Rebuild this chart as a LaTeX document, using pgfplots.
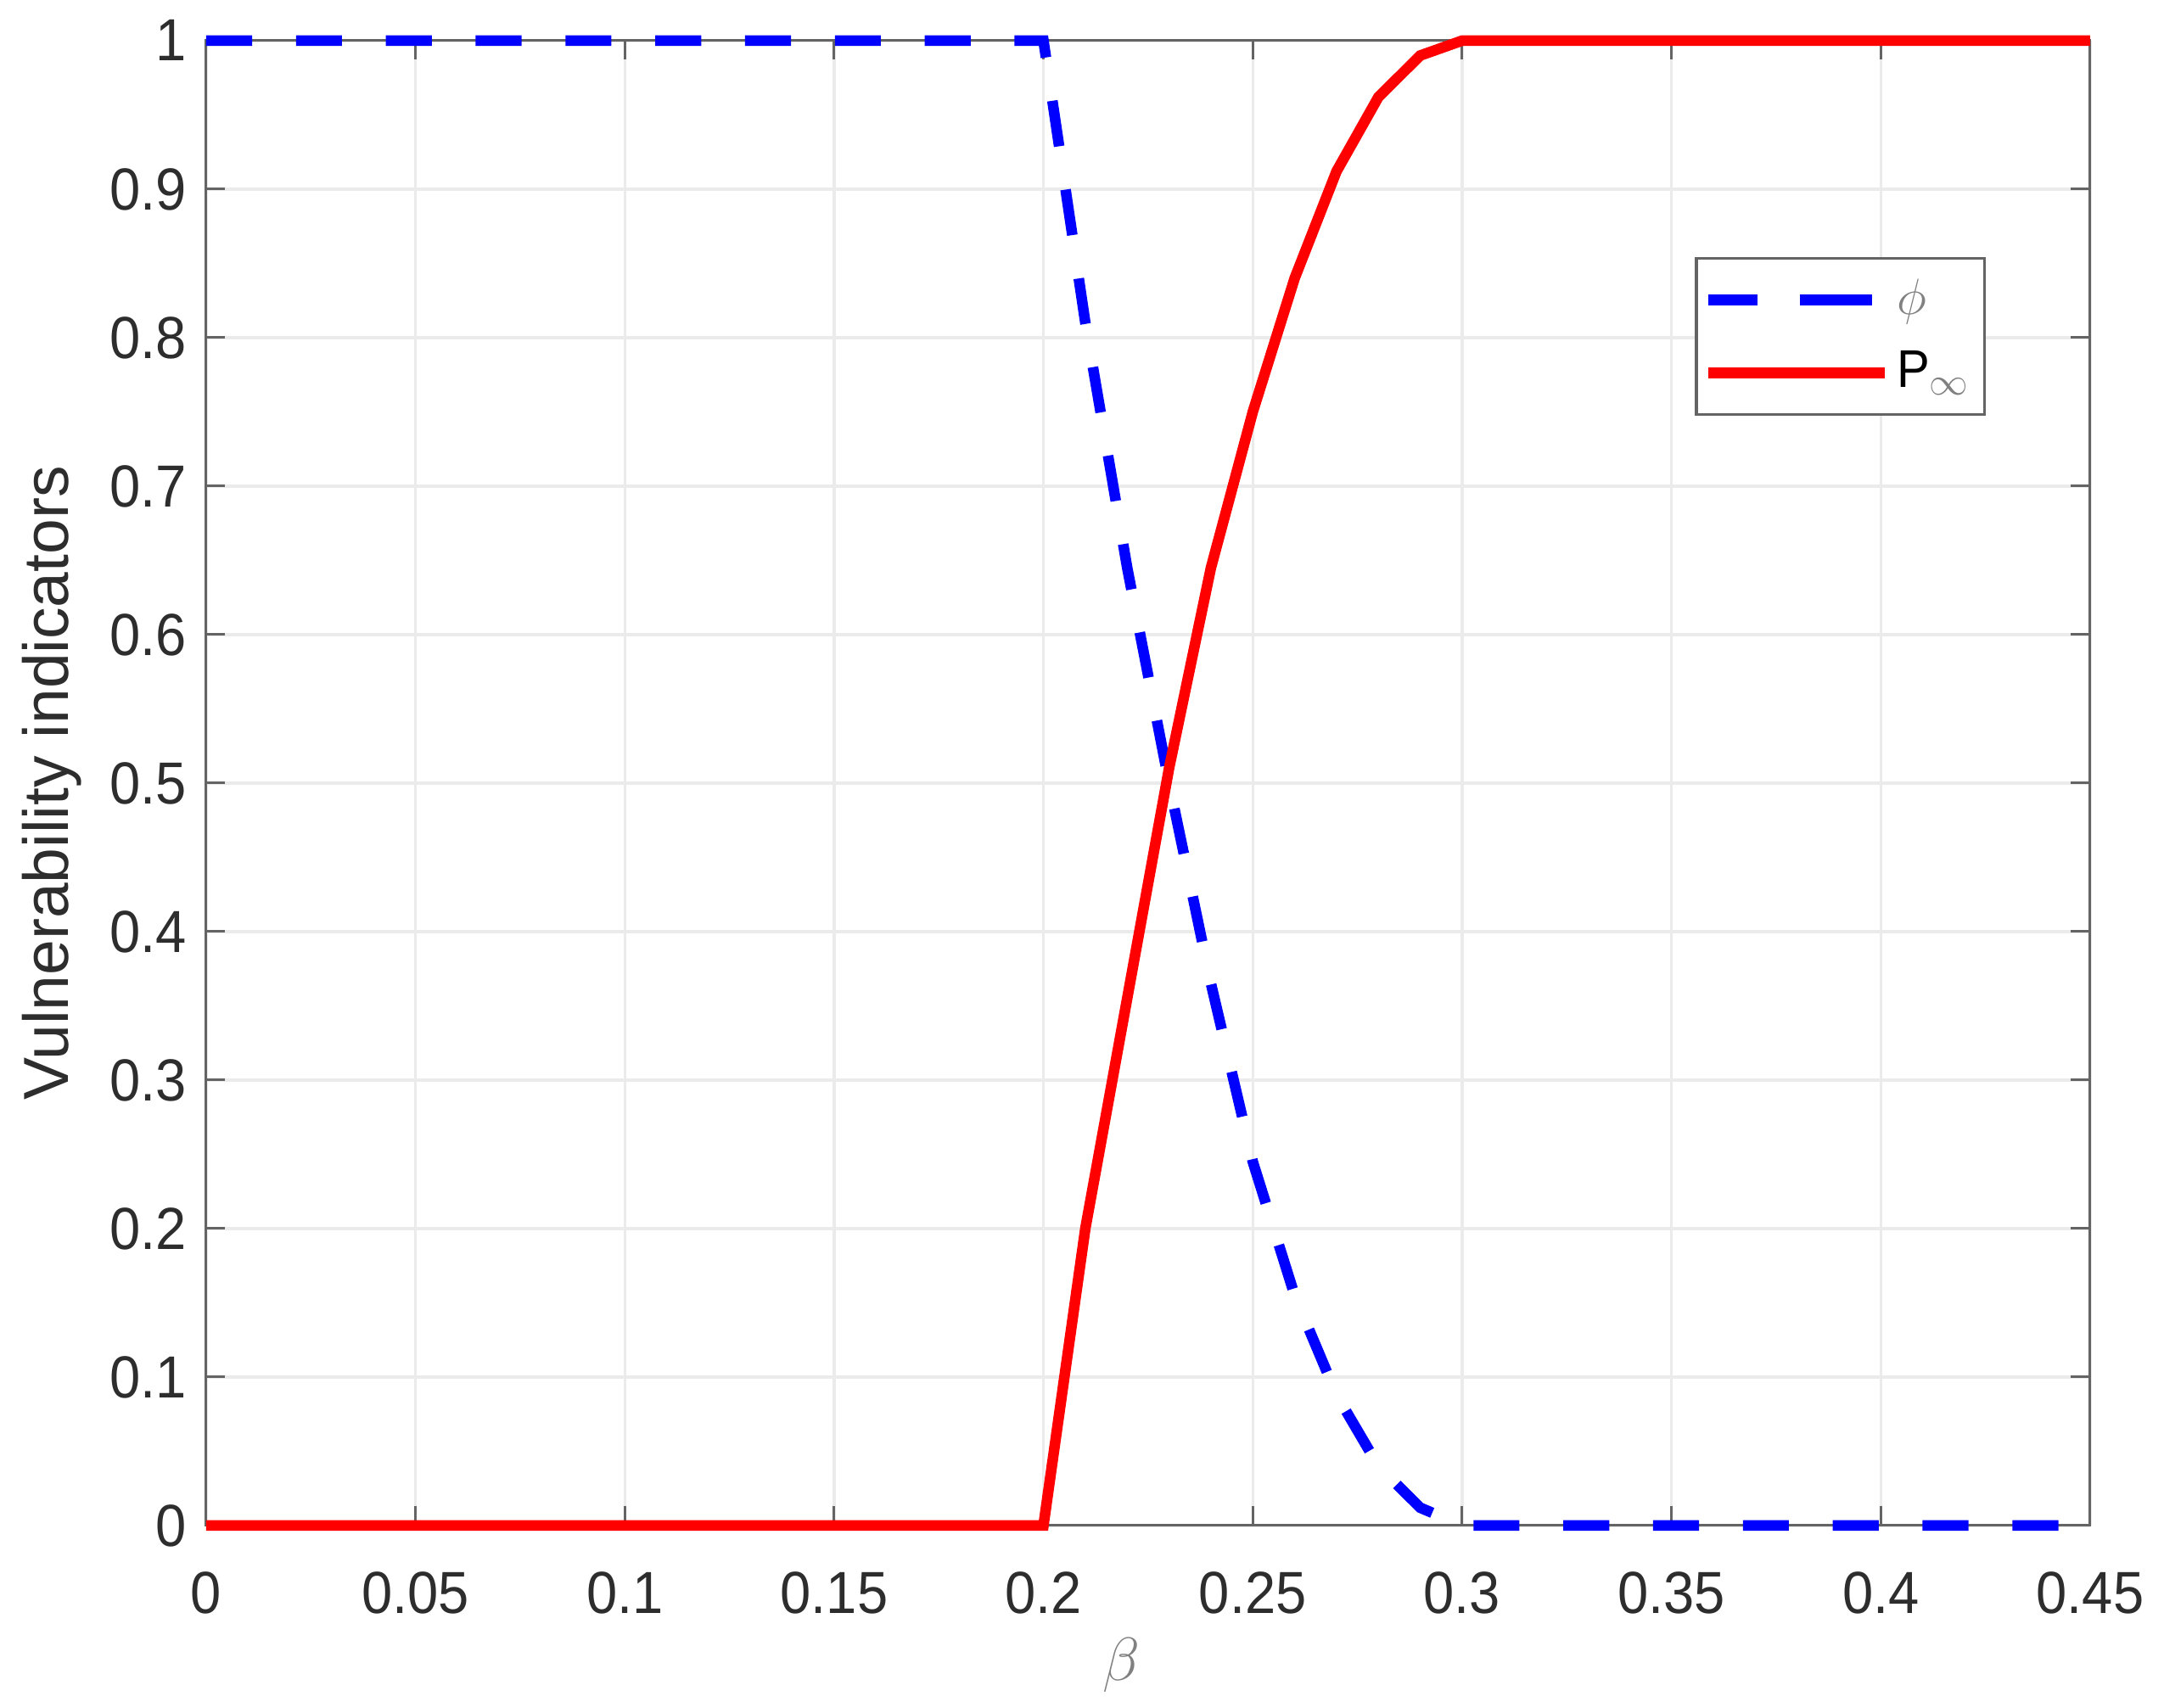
\documentclass[border=0pt]{standalone}
\usepackage{fontspec}
\setmainfont{Liberation Sans}[FakeStretch=0.93]
\newfontfamily\labelfont{Liberation Sans}
\usepackage{pgfplots}
\pgfplotsset{compat=1.18}

\definecolor{axgray}{RGB}{100,100,100}
\definecolor{txtgray}{RGB}{45,45,45}
\definecolor{gridgray}{RGB}{235,235,235}
\definecolor{mblue}{RGB}{0,0,255}
\definecolor{mred}{RGB}{255,0,0}

% legend samples: plain line, and MATLAB-like dash for phi
\pgfplotsset{
    lineleg/.style={legend image code/.code={\draw[##1] (0pt,0pt) -- (49.7pt,0pt);}},
    phileg/.style={legend image code/.code={\draw[##1, dash pattern=on 13.7pt off 12pt on 20.6pt off 10pt] (0pt,0pt) -- (49.7pt,0pt);}},
}

\begin{document}
\begin{tikzpicture}
\begin{axis}[
    scale only axis,
    width=532.8pt, height=420pt,
    xmin=0, xmax=0.45, ymin=0, ymax=1,
    xtick={0,0.05,...,0.45},
    xticklabels={0,0.05,0.1,0.15,0.2,0.25,0.3,0.35,0.4,0.45},
    ytick={0,0.1,...,1},
    yticklabels={0,0.1,0.2,0.3,0.4,0.5,0.6,0.7,0.8,0.9,1},
    tick align=inside,
    major tick length=5.4pt,
    tick style={axgray, line width=0.7pt},
    axis line style={axgray, line width=0.7pt},
    grid=major,
    major grid style={gridgray, line width=0.8pt},
    tick label style={font=\fontsize{16.8}{18}\selectfont, text=txtgray},
    xticklabel style={yshift=-9.5pt},
    yticklabel style={xshift=-2pt},
    xlabel={\fontsize{17}{20}\selectfont\color{gray}$\beta$},
    xlabel style={at={(axis description cs:0.486,-0.0943)}, anchor=center},
    ylabel={\labelfont\fontsize{18}{20}\selectfont Vulnerability indicators},
    ylabel style={at={(axis description cs:-0.082,0.5)}, anchor=center, text=txtgray},
    clip=false,
    legend style={
        at={(rel axis cs:0.9446,0.8543)}, anchor=north east,
        draw=axgray, line width=0.8pt,
        inner xsep=2pt, inner ysep=1.5pt,
        nodes={inner xsep=2pt, inner ysep=2.3pt, text height=12pt, text depth=4pt},
        font=\fontsize{15}{18}\selectfont,
    },
    legend cell align=left,
]
\addplot[mblue, line width=3pt, dash pattern=on 13pt off 12.4pt, phileg]
coordinates {
    (0,1) (0.05,1) (0.1,1) (0.15,1) (0.2,1)
    (0.21,0.81) (0.22,0.645) (0.23,0.50) (0.24,0.365) (0.25,0.245)
    (0.26,0.155) (0.27,0.088) (0.28,0.04) (0.29,0.012) (0.30,0)
    (0.35,0) (0.4,0) (0.45,0)
};
\addlegendentry{\color{gray}$\phi$}
\addplot[mred, line width=3pt, lineleg]
coordinates {
    (0,0) (0.05,0) (0.1,0) (0.15,0) (0.2,0)
    (0.21,0.2) (0.22,0.355) (0.23,0.51) (0.24,0.645) (0.25,0.75)
    (0.26,0.84) (0.27,0.912) (0.28,0.962) (0.29,0.99) (0.30,1)
    (0.35,1) (0.4,1) (0.45,1)
};
\addlegendentry{P$_{\color{gray}\infty}$}
\end{axis}
\pgfresetboundingbox
\path[use as bounding box] ([xshift=-58.3pt,yshift=-51.4pt]current axis.south west) rectangle ([xshift=20.9pt,yshift=11.5pt]current axis.north east);
\end{tikzpicture}
\end{document}
